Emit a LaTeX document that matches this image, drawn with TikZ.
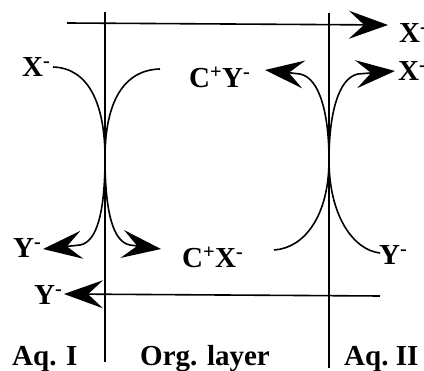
\documentclass[tikz,border=0pt]{standalone}
\usepackage{fontspec}
\setmainfont{Liberation Serif}
\usetikzlibrary{arrows.meta}
\tikzset{
  lbl/.style={font=\bfseries\fontsize{29}{31}\selectfont, inner sep=0pt, anchor=base west},
  ln/.style={line width=1.6pt, black},
  bigtip/.style={-{Stealth[length=39pt,width=28pt,inset=15pt]}},
}
\newcommand{\ion}[2]{#1\textsuperscript{#2}}
\begin{document}
\begin{tikzpicture}[x=1pt,y=-1pt]
\useasboundingbox (0,0) rectangle (424,371);
% membrane lines
\coordinate (l1t) at (105,12);
\coordinate (l1b) at (105,362);
\coordinate (l2t) at (329,13);
\coordinate (l2b) at (329,368);
\draw[ln] (l1t) -- (l1b);
\draw[ln] (l2t) -- (l2b);
% cusps
\coordinate (c1) at (105,158);
\coordinate (c2) at (329,160);
% top horizontal arrow
\coordinate (ts) at (67,23);
\coordinate (te) at (388,25);
\draw[ln,bigtip] (ts) -- (te);
% bottom horizontal arrow
\coordinate (bs) at (380,296);
\coordinate (be) at (64,294);
\draw[ln,bigtip] (bs) -- (be);
% labels
\node[lbl] (xtr) at (399,43) {\ion{X}{-}};
\node[lbl] (xr) at (398,81) {\ion{X}{-}};
\node[lbl] (xl) at (22,77) {\ion{X}{-}};
\node[lbl] (cy) at (189,88) {C\textsuperscript{+}Y\textsuperscript{-}};
\node[lbl] (cx) at (182,268) {C\textsuperscript{+}X\textsuperscript{-}};
\node[lbl] (yl) at (13,258) {\ion{Y}{-}};
\node[lbl] (yb) at (34,305) {\ion{Y}{-}};
\node[lbl] (yr) at (379,265) {\ion{Y}{-}};
\node[lbl] (aq1) at (12,366) {Aq. I};
\node[lbl] (org) at (140,366) {Org. layer};
\node[lbl] (aq2) at (344,366) {Aq.\ II};
% left interface curves
\coordinate (a1) at (53,67);
\coordinate (a2) at (160,69);
\coordinate (a3) at (43,249);
\coordinate (a4) at (161,249);
\coordinate (a3b) at (80,245);
\coordinate (a4b) at (130,245);
\draw[ln] (a1) .. controls (88,68) and (105,103) .. (c1);
\draw[ln] (a2) .. controls (123,70) and (105,103) .. (c1);
\draw[ln,bigtip] (c1) .. controls (105,212) and (97,242) .. (a3b) -- (a3);
\draw[ln,bigtip] (c1) .. controls (105,212) and (113,242) .. (a4b) -- (a4);
% right interface curves
\coordinate (b1) at (265,70);
\coordinate (b2) at (395,71);
\coordinate (b1b) at (300,74);
\coordinate (b2b) at (358,74);
\coordinate (b3) at (274,250);
\coordinate (b4) at (380,253);
\draw[ln,bigtip] (c2) .. controls (329,115) and (320,78) .. (b1b) -- (b1);
\draw[ln,bigtip] (c2) .. controls (329,115) and (338,78) .. (b2b) -- (b2);
\draw[ln] (b3) .. controls (305,248) and (329,215) .. (c2);
\draw[ln] (c2) .. controls (329,215) and (353,250) .. (b4);
\end{tikzpicture}
\end{document}
